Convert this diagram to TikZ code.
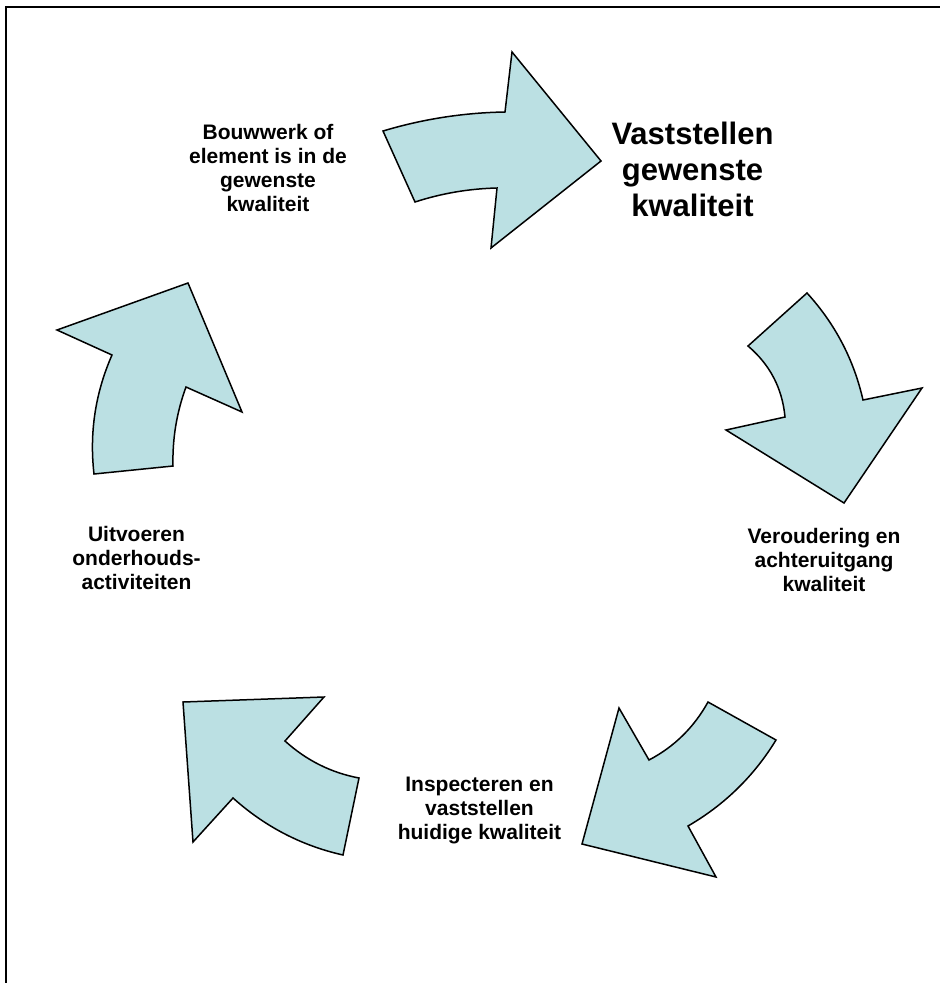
\documentclass[tikz,border=0pt]{standalone}
\usepackage{fontspec}
\setmainfont{Liberation Sans}
\definecolor{arrowfill}{RGB}{187,224,227}
\begin{document}
\begin{tikzpicture}[x=1pt,y=-1pt,
  cyclearrow/.style={draw=black,fill=arrowfill,line width=1.5pt,line join=miter},
  smalllabel/.style={align=center,inner sep=0pt,anchor=north,font=\bfseries\fontsize{21}{24}\selectfont},
  biglabel/.style={align=center,inner sep=0pt,anchor=north,font=\bfseries\fontsize{31}{36}\selectfont}]
\useasboundingbox (0,0) rectangle (940,983);
\draw[line width=2pt] (940,7) -- (6,7) -- (6,983);

% arrow 1 (top, pointing right)
\draw[cyclearrow] (383,131) .. controls (423,119) and (463.7,112.7) .. (505,112) -- (512,52) -- (601,161)
  -- (491,248) -- (497,188) .. controls (469,188.7) and (441.7,193.3) .. (415,202) -- cycle;
% arrow 2 (right, pointing down)
\draw[cyclearrow] (807,293) -- (748,346) .. controls (770,364.7) and (782.3,388.3) .. (785,417) -- (726,430)
  -- (844,503) -- (922,388) -- (863,400) .. controls (853.7,359.3) and (835,323.7) .. (807,293) -- cycle;
% arrow 3 (bottom right, pointing down-left)
\draw[cyclearrow] (708,702) -- (776,740) .. controls (754,776) and (724.7,804.7) .. (688,826) -- (716,877)
  -- (582,844) -- (619,708) -- (649,760) .. controls (674.3,746.7) and (694,727.3) .. (708,702) -- cycle;
% arrow 4 (bottom left, pointing up-left)
\draw[cyclearrow] (183,702) -- (324,697) -- (285,741) .. controls (306.3,760.3) and (331,772.7) .. (359,778)
  -- (343,855) .. controls (301.7,845.7) and (265,826.7) .. (233,798) -- (193,842) -- cycle;
% arrow 5 (left, pointing up-right)
\draw[cyclearrow] (57,330) -- (188,283) -- (242,412) -- (186,387) .. controls (176.7,412.3) and (172.3,438.7) .. (173,466)
  -- (94,474) .. controls (89.3,432.7) and (95.3,393) .. (112,355) -- cycle;

\node[smalllabel] (bouwwerk) at (268,124.5) {Bouwwerk of\\element is in de\\gewenste\\kwaliteit};
\node[biglabel] (vaststellen) at (692.5,122) {Vaststellen\\gewenste\\kwaliteit};
\node[smalllabel] (veroudering) at (824,528) {Veroudering en\\achteruitgang\\kwaliteit};
\node[smalllabel] (inspecteren) at (479.5,776.5) {Inspecteren en\\vaststellen\\huidige kwaliteit};
\node[smalllabel] (uitvoeren) at (136.5,526.5) {Uitvoeren\\onderhouds-\\activiteiten};
\end{tikzpicture}
\end{document}
